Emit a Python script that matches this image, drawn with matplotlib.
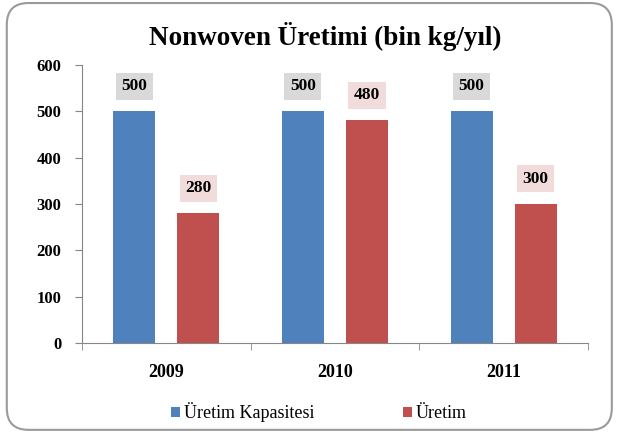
import matplotlib.pyplot as plt
import numpy as np
from matplotlib.patches import FancyBboxPatch

# Данные
years = ['2009', '2010', '2011']
kapasite = [500, 500, 500]
uretim = [280, 480, 300]

plt.rcParams['font.family'] = ['Liberation Serif', 'DejaVu Serif']

fig = plt.figure(figsize=(6.18, 4.32), dpi=100)
ax = fig.add_axes([0.1327, 0.206, 0.8188, 0.644])

x = np.arange(len(years))
w = 0.25
off = 0.19
b1 = ax.bar(x - off, kapasite, w, color='#4f81bd', label='Üretim Kapasitesi')
b2 = ax.bar(x + off, uretim, w, color='#c0504d', label='Üretim')

# Подписи значений с фоном
for bars, fc in [(b1, '#d9d9d9'), (b2, '#f2dcdb')]:
    for r in bars:
        h = r.get_height()
        ax.annotate(f'{int(h)}', (r.get_x() + r.get_width() / 2, h),
                    xytext=(0, 18), textcoords='offset points', ha='center', va='center',
                    fontsize=12.5, fontweight='bold',
                    bbox=dict(boxstyle='square,pad=0.32', fc=fc, ec='none'))

ax.set_xlim(-0.5, 2.5)
ax.set_ylim(0, 600)
ax.set_yticks(range(0, 601, 100))
ax.set_xticks(x)
ax.set_xticklabels(years)
ax.set_xticks([-0.5, 0.5, 1.5, 2.5], minor=True)
ax.tick_params(axis='x', which='major', length=0, pad=15, labelsize=13)
ax.tick_params(axis='x', which='minor', length=5, color='#868686')
ax.tick_params(axis='y', length=5, color='#868686', labelsize=12, pad=10)
for lab in ax.get_xticklabels() + ax.get_yticklabels():
    lab.set_fontweight('bold')

for s in ['top', 'right']:
    ax.spines[s].set_visible(False)
for s in ['left', 'bottom']:
    ax.spines[s].set_color('#868686')

fig.text(0.526, 0.915, 'Nonwoven Üretimi (bin kg/yıl)', ha='center', va='center',
         fontsize=19.5, fontweight='bold')

leg = fig.legend(handles=[b1, b2], loc='center', bbox_to_anchor=(0.516, 0.046), ncol=2,
                 frameon=False, fontsize=13,
                 handlelength=0.5, handleheight=0.5, handletextpad=0.2, columnspacing=4.9)
for t in leg.get_texts():
    t.set_fontfamily('Liberation Serif')

# Рамка
frame = FancyBboxPatch((0.011, 0.005), 0.979, 0.988,
                       boxstyle='round,pad=0,rounding_size=0.035', mutation_aspect=618 / 432,
                       transform=fig.transFigure, fc='none', ec='#9a9a9a', lw=1.5)
fig.patches.append(frame)

fig.savefig('out.png', dpi=100)
